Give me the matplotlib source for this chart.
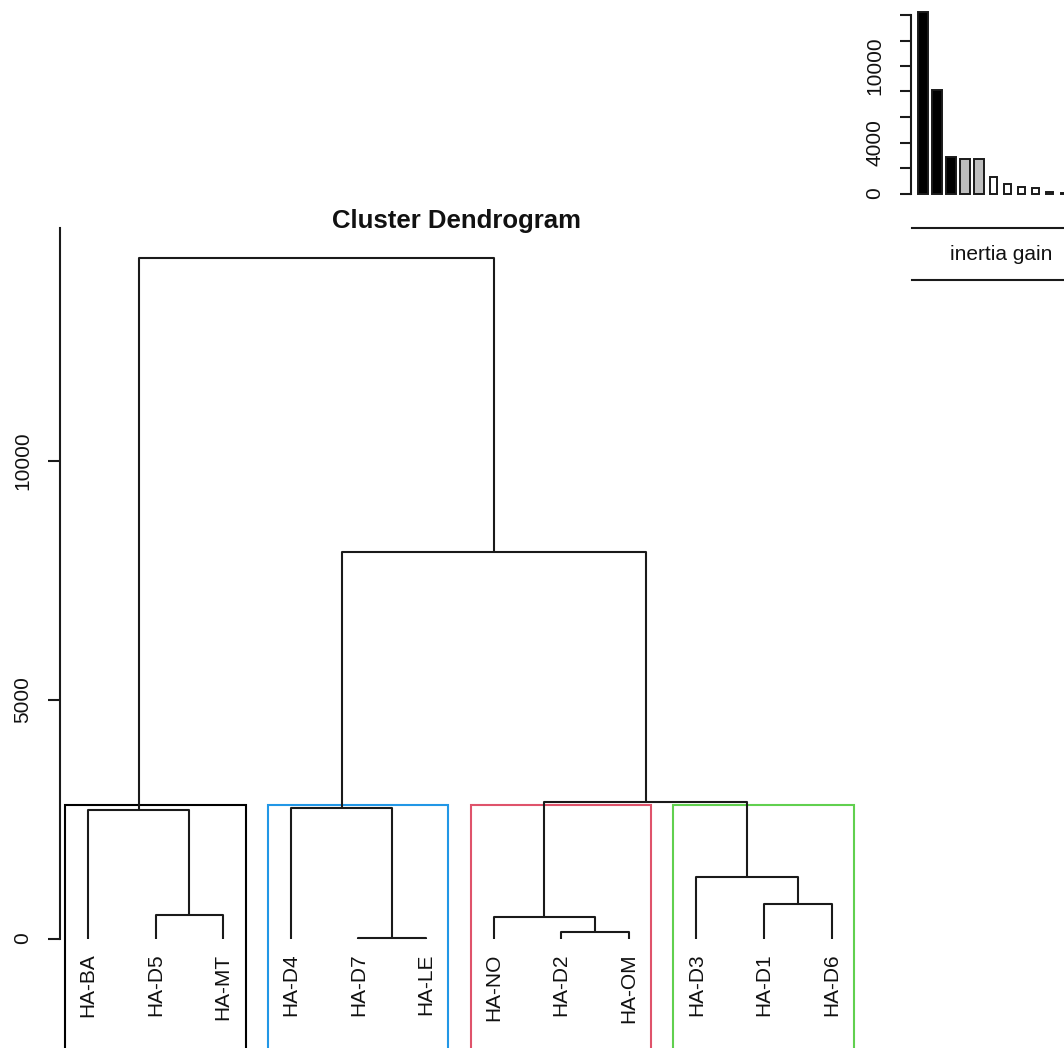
import numpy as np
import matplotlib
matplotlib.use("Agg")
import matplotlib.pyplot as plt
from matplotlib.patches import Rectangle
from matplotlib.lines import Line2D

plt.rcParams['font.family'] = ['Liberation Sans', 'DejaVu Sans']

# leaves in plotting order
labels = ["HA-BA", "HA-D5", "HA-MT", "HA-D4", "HA-D7", "HA-LE",
          "HA-NO", "HA-D2", "HA-OM", "HA-D3", "HA-D1", "HA-D6"]

# merges, R hclust style: negative = leaf (1-based), positive = earlier merge
merge_a = [-5, -8, -7, -2, -11, -10, -1, -4, 3, 8, 7]
merge_b = [-6, -9, 2, -3, -12, 5, 4, 1, 6, 9, 10]
heights = [20, 132, 446, 482, 727, 1285, 2683, 2732, 2858, 8092, 14228]

# cluster sizes (in leaf order) and colours of the cut boxes
cluster_sizes = [3, 3, 3, 3]
box_colors = ["black", "#2297E6", "#DF536B", "#61D04F"]

main_ticks = [0, 5000, 10000]
inset_ticks = [0, 2000, 4000, 6000, 8000, 10000, 12000, 14000]
inset_labels = ["0", "", "4000", "", "", "10000", "", ""]

W, H = 1064, 1048
fig = plt.figure(figsize=(W / 100, H / 100), dpi=100)


def fx(px):
    return px / W


def fy(py):
    return 1 - py / H


# pixel scale of the main plot
y0_px = 938.5
px_per_unit = 47.8 / 1000
leaf0_px = 88
leaf_step = 67.6

ax = fig.add_axes([fx(60), 0, fx(900) - fx(60), fy(228)])
ax.set_xlim(1 + (60 - leaf0_px) / leaf_step, 1 + (900 - leaf0_px) / leaf_step)
ytop = (y0_px - 228) / px_per_unit
ax.set_ylim((y0_px - H) / px_per_unit, ytop)

lc = "#1a1a1a"
lw = 1.5

pos = {}
hgt = {}
for i, (a, b, h) in enumerate(zip(merge_a, merge_b, heights), start=1):
    xs, hs = [], []
    for c in (a, b):
        if c < 0:
            xs.append(-c)
            hs.append(0)
        else:
            xs.append(pos[c])
            hs.append(hgt[c])
    ax.plot([xs[0], xs[0], xs[1], xs[1]], [hs[0], h, h, hs[1]],
            color=lc, lw=lw, solid_capstyle='butt')
    pos[i] = (xs[0] + xs[1]) / 2
    hgt[i] = h

for i, lab in enumerate(labels, start=1):
    ax.text(i, -15 / px_per_unit, lab, rotation=90, ha='center', va='top',
            fontsize=15, color='#111111')

# cut boxes
hs_sorted = sorted(heights, reverse=True)
k = len(cluster_sizes)
box_top = (hs_sorted[k - 2] + hs_sorted[k - 1]) / 2
m = np.concatenate([[0], np.cumsum(cluster_sizes)])
for j in range(k):
    left = m[j] + 0.66
    right = m[j + 1] + 0.33
    ax.add_patch(Rectangle((left, -6000), right - left, box_top + 6000,
                           fill=False, edgecolor=box_colors[j], lw=lw))

for s in ['top', 'right', 'bottom']:
    ax.spines[s].set_visible(False)
ax.spines['left'].set_bounds(0, ytop)
ax.spines['left'].set_linewidth(lw)
ax.spines['left'].set_color(lc)
ax.set_xticks([])
ax.set_yticks(main_ticks)
ax.set_yticklabels([str(t) for t in main_ticks], rotation=90, va='center',
                   fontsize=15, color='#111111')
ax.tick_params(axis='y', length=9, width=lw, color=lc, pad=11)

fig.text(fx(457), fy(221), "Cluster Dendrogram", ha='center', va='center',
         fontsize=18.5, fontweight='bold', color='#111111')

# inset: inertia gain barplot
ib = 193.5
it = 15
bx0 = 923
bstep = 14.1
axi = fig.add_axes([fx(911), fy(ib), 1 - fx(911), fy(it) - fy(ib)])
axi.set_xlim((911 - bx0) / bstep, (W - bx0) / bstep)
axi.set_ylim(0, 14000)
n_grey = 2
n_white = len(hs_sorted) - (k - 1) - n_grey
bar_cols = ["black"] * (k - 1) + ["#BEBEBE"] * n_grey + ["white"] * n_white
bar_w = [10 / bstep] * (k - 1 + n_grey) + [7 / bstep] * n_white
axi.bar(np.arange(len(hs_sorted)), hs_sorted, width=bar_w,
        color=bar_cols, edgecolor=lc, lw=1.4, clip_on=False)
for s in ['top', 'right', 'bottom']:
    axi.spines[s].set_visible(False)
axi.spines['left'].set_linewidth(lw)
axi.spines['left'].set_color(lc)
axi.set_xticks([])
axi.set_yticks(inset_ticks)
axi.set_yticklabels(inset_labels, rotation=90, va='center', fontsize=15,
                    color='#111111')
axi.tick_params(axis='y', length=8, width=lw, color=lc, pad=11)

# legend-like title block
for py in (228, 280):
    fig.add_artist(Line2D([fx(912), 1], [fy(py), fy(py)], color=lc, lw=lw))
fig.text(fx(1001), fy(255), "inertia gain", ha='center', va='center',
         fontsize=15, color='#111111')

fig.savefig("out.png", dpi=100)
